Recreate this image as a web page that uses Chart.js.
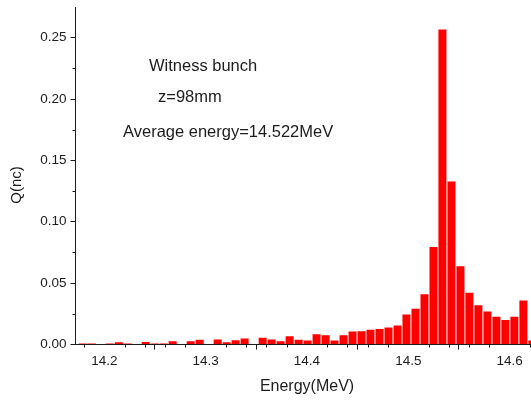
<!DOCTYPE html>
<html>
<head>
<meta charset="utf-8">
<script src="https://cdn.jsdelivr.net/npm/chart.js@4.4.0/dist/chart.umd.min.js"></script>
<style>
  body { margin: 0; background: #fff; }
  canvas { display: block; }
</style>
</head>
<body>
<canvas id="myChart" width="531" height="401"></canvas>
<script>
// bin centres of the energy histogram (MeV)
const energies = [
  14.1788, 14.1877, 14.1965, 14.2054, 14.2143, 14.2232, 14.2320, 14.2409, 14.2498, 14.2587,
  14.2675, 14.2764, 14.2853, 14.2941, 14.3030, 14.3119, 14.3208, 14.3296, 14.3385, 14.3474,
  14.3563, 14.3651, 14.3740, 14.3829, 14.3918, 14.4006, 14.4095, 14.4184, 14.4272, 14.4361,
  14.4450, 14.4539, 14.4627, 14.4716, 14.4805, 14.4894, 14.4982, 14.5071, 14.5160, 14.5249,
  14.5337, 14.5426, 14.5515, 14.5603, 14.5692, 14.5781, 14.5870, 14.5958, 14.6047, 14.6136,
  14.6225
];

// charge per bin (nc)
const charge = [
  0.0009, 0.0009, 0.0004, 0.0009, 0.0018, 0.0009, 0.0004, 0.0021, 0.0009, 0.0009,
  0.0026, 0.0005, 0.0026, 0.0038, 0.0, 0.0040, 0.0019, 0.0035, 0.0049, 0.0,
  0.0054, 0.0040, 0.0027, 0.0068, 0.0038, 0.0032, 0.0083, 0.0075, 0.0032, 0.0075,
  0.0105, 0.0108, 0.0121, 0.0127, 0.0138, 0.0154, 0.0244, 0.0291, 0.0409, 0.0795,
  0.2566, 0.1328, 0.0637, 0.0421, 0.0319, 0.0269, 0.0226, 0.0199, 0.0226, 0.0359,
  0.0033
];

// tick positions
const xMajorTicks = [14.2, 14.3, 14.4, 14.5, 14.6];
const xMinorTicks = [14.18, 14.22, 14.24, 14.26, 14.28, 14.32, 14.34, 14.36, 14.38,
  14.42, 14.44, 14.46, 14.48, 14.52, 14.54, 14.56, 14.58, 14.62];
const yMajorTicks = [0, 0.05, 0.10, 0.15, 0.20, 0.25];
const yMinorTicks = [0.025, 0.075, 0.125, 0.175, 0.225];

const notes = ["Witness bunch", "z=98mm", "Average energy=14.522MeV"];

const FONT = "'Liberation Sans', Arial, sans-serif";
const INK = "#1c1c1c";

// draws the short minor ticks, the text notes and the axis titles
const extras = {
  id: "extras",
  afterDraw(chart) {
    const ctx = chart.ctx;
    const xs = chart.scales.x;
    const ys = chart.scales.y;
    const area = chart.chartArea;
    ctx.save();
    ctx.strokeStyle = INK;
    ctx.lineWidth = 1;
    ctx.beginPath();
    xMinorTicks.forEach(v => {
      const px = Math.round(xs.getPixelForValue(v)) + 0.5;
      ctx.moveTo(px, area.bottom);
      ctx.lineTo(px, area.bottom + 3);
    });
    yMinorTicks.forEach(v => {
      const py = Math.round(ys.getPixelForValue(v)) + 0.5;
      ctx.moveTo(area.left, py);
      ctx.lineTo(area.left - 3, py);
    });
    ctx.stroke();

    ctx.fillStyle = INK;
    ctx.textBaseline = "alphabetic";
    ctx.textAlign = "left";
    ctx.font = "16.5px " + FONT;
    ctx.fillText(notes[0], 149, 71);
    ctx.fillText(notes[1], 158, 102);
    ctx.fillText(notes[2], 123, 137);

    // axis titles
    ctx.font = "16px " + FONT;
    ctx.textAlign = "center";
    ctx.textBaseline = "middle";
    ctx.fillText("Energy(MeV)", 307, 387);
    ctx.translate(16.5, 185);
    ctx.rotate(-Math.PI / 2);
    ctx.font = "15px " + FONT;
    ctx.fillText("Q(nc)", 0, 0);
    ctx.restore();
  }
};

const ctx = document.getElementById("myChart").getContext("2d");
const myChart = new Chart(ctx, {
  type: "bar",
  data: {
    datasets: [{
      label: "Q",
      data: energies.map((e, i) => ({ x: e, y: charge[i] })),
      backgroundColor: "#ff0000",
      borderWidth: 0,
      barPercentage: 0.9,
      categoryPercentage: 1.0
    }]
  },
  options: {
    responsive: false,
    animation: false,
    layout: { padding: { top: 7, left: 0, right: 0, bottom: 0 } },
    plugins: {
      legend: { display: false },
      tooltip: { enabled: false }
    },
    scales: {
      x: {
        type: "linear",
        offset: false,
        min: 14.1716,
        max: 14.6211,
        afterBuildTicks: scale => {
          scale.ticks = xMajorTicks.map(v => ({ value: v }));
        },
        afterFit: scale => {
          scale.height = 56.5;
          scale.paddingLeft = 0;
          scale.paddingRight = 0;
        },
        border: { display: true, color: INK, width: 1 },
        grid: { drawOnChartArea: false, drawTicks: true, tickLength: 5, color: INK },
        ticks: {
          color: INK,
          padding: 4,
          maxRotation: 0,
          font: { family: FONT, size: 13.5 },
          callback: v => v.toFixed(1)
        }
      },
      y: {
        min: 0,
        max: 0.275,
        afterBuildTicks: scale => {
          scale.ticks = yMajorTicks.map(v => ({ value: v }));
        },
        afterFit: scale => {
          scale.width = 75.5;
          scale.paddingTop = 0;
          scale.paddingBottom = 0;
        },
        border: { display: true, color: INK, width: 1 },
        grid: { drawOnChartArea: false, drawTicks: true, tickLength: 5, color: INK },
        ticks: {
          color: INK,
          padding: 4,
          font: { family: FONT, size: 13.5 },
          callback: v => v.toFixed(2)
        }
      }
    }
  },
  plugins: [extras]
});
</script>
</body>
</html>
